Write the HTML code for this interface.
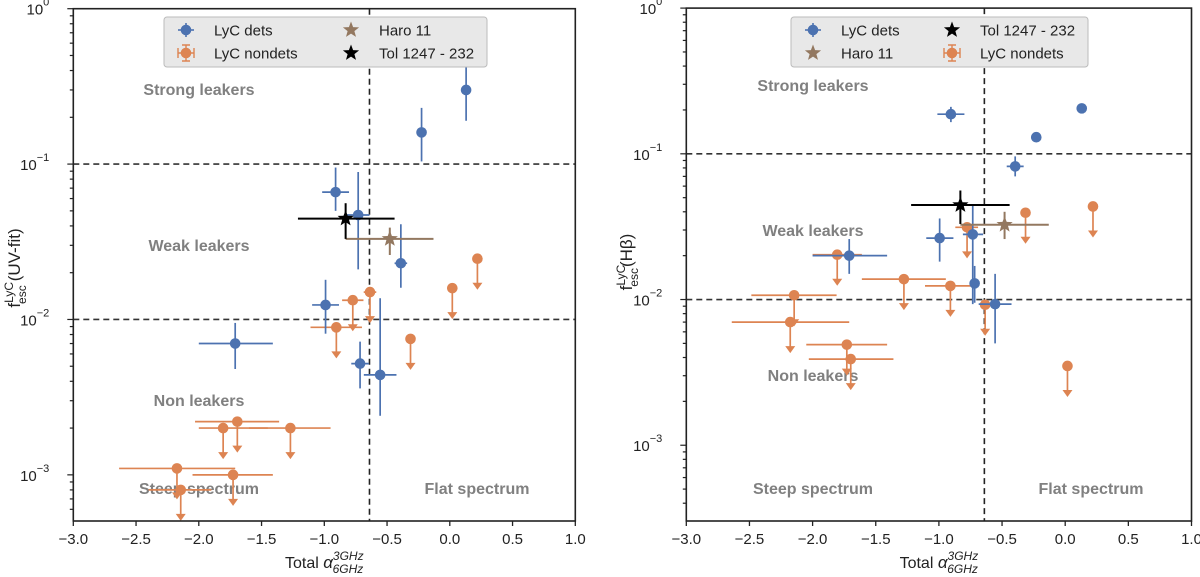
<!DOCTYPE html>
<html><head><meta charset="utf-8"><style>
html,body{margin:0;padding:0;background:#fff;}
svg{display:block;font-family:"Liberation Sans","DejaVu Sans",sans-serif;}
</style></head><body>
<svg id="chart" width="1200" height="577" viewBox="0 0 1200 577"></svg>
<script>
// ---- data (x = alpha, y = fesc) ----
const xTicks = [-3.0,-2.5,-2.0,-1.5,-1.0,-0.5,0.0,0.5,1.0];
const yTickExps = [0,-1,-2,-3];
// Left panel: UV-fit
const L_detX   = [0.13,-0.225,-0.91,-0.73,-0.39,-0.99,-1.71,-0.715,-0.555];
const L_detY   = [0.30,0.16,0.066,0.047,0.023,0.0124,0.0070,0.0052,0.0044];
const L_detYlo = [0.19,0.104,0.050,0.021,0.016,0.0081,0.0048,0.0036,0.0024];
const L_detYhi = [0.45,0.23,0.095,0.089,0.041,0.018,0.0095,0.0072,0.0137];
const L_detXlo = [0.13,-0.225,-1.017,-0.82,-0.44,-1.097,-2.0,-0.785,-0.685];
const L_detXhi = [0.13,-0.225,-0.803,-0.64,-0.34,-0.883,-1.41,-0.645,-0.425];
const L_ndX    = [0.22,0.02,-0.636,-0.773,-0.904,-0.313,-1.693,-1.806,-1.27,-2.174,-1.727,-2.144];
const L_ndY    = [0.0246,0.0159,0.015,0.0133,0.0089,0.0075,0.0022,0.0020,0.0020,0.0011,0.0010,0.00080];
const L_ndXlo  = [0.22,0.02,-0.686,-0.858,-1.11,-0.313,-2.03,-2.0,-1.6,-2.635,-2.05,-2.4];
const L_ndXhi  = [0.22,0.02,-0.586,-0.688,-0.70,-0.313,-1.36,-1.45,-0.95,-1.71,-1.41,-1.9];
const L_haro = [-0.478,0.033,-0.83,-0.13,0.026,0.039];   // x, y, xlo, xhi, ylo, yhi
const L_tol  = [-0.83,0.0446,-1.21,-0.44,0.033,0.056];
// Right panel: Hbeta
const R_detX   = [0.131,-0.905,-0.229,-0.396,-0.994,-0.732,-1.71,-0.717,-0.555];
const R_detY   = [0.205,0.187,0.130,0.082,0.0264,0.028,0.020,0.0129,0.0093];
const R_detYlo = [0.205,0.165,0.122,0.070,0.0182,0.0093,0.0150,0.0095,0.0050];
const R_detYhi = [0.205,0.210,0.140,0.096,0.036,0.044,0.026,0.0170,0.0150];
const R_detXlo = [0.131,-1.012,-0.26,-0.463,-1.10,-0.81,-2.0,-0.74,-0.685];
const R_detXhi = [0.131,-0.798,-0.20,-0.329,-0.885,-0.65,-1.41,-0.69,-0.425];
const R_ndX    = [0.22,-0.314,-0.777,-1.805,-1.277,-0.909,-2.146,-0.634,-2.177,-1.729,-1.698,0.018];
const R_ndY    = [0.0435,0.0394,0.0313,0.0203,0.0138,0.0124,0.0107,0.0092,0.0070,0.0049,0.0039,0.0035];
const R_ndXlo  = [0.22,-0.314,-0.87,-2.0,-1.61,-1.11,-2.485,-0.66,-2.64,-2.05,-2.03,0.018];
const R_ndXhi  = [0.22,-0.314,-0.69,-1.61,-0.945,-0.75,-1.81,-0.61,-1.71,-1.41,-1.36,0.018];
const R_haro = [-0.48,0.0326,-0.83,-0.13,0.026,0.040];
const R_tol  = [-0.83,0.0445,-1.22,-0.44,0.033,0.056];
const alphaCut = -0.64;
const fescCuts = [0.1,0.01];

const NS='http://www.w3.org/2000/svg';
const svg=document.getElementById('chart');
const BLUE='#4c72b0', ORANGE='#dd8452', BROWN='#937860';
function mk(tag,attrs,parent){const e=document.createElementNS(NS,tag);for(const k in attrs)e.setAttribute(k,attrs[k]);(parent||svg).appendChild(e);return e;}

function star(g,cx,cy,r,fill){let p=[];for(let i=0;i<10;i++){const rr=i%2?r*0.42:r;const a=-Math.PI/2+i*Math.PI/5;p.push((cx+rr*Math.cos(a)).toFixed(1)+','+(cy+rr*Math.sin(a)).toFixed(1));}
 return mk('polygon',{points:p.join(' '),fill:fill},g);}

function panel(cfg){
 const {x0,x1,yTop,yBot,ymaxLog,yminLog,name}=cfg;
 const sx=v=>x0+(v+3)/4*(x1-x0);
 const sy=v=>yTop+(ymaxLog-Math.log10(v))/(ymaxLog-yminLog)*(yBot-yTop);
 const g=mk('g',{});
 
 
 fescCuts.forEach(c=>{const l=mk('line',{x1:x0,x2:x1,y1:sy(c),y2:sy(c),stroke:'#333','stroke-width':1.6,'stroke-dasharray':'6,4'},g);
  });
 const vl=mk('line',{x1:sx(alphaCut),x2:sx(alphaCut),y1:yTop,y2:yBot,stroke:'#222','stroke-width':1.6,'stroke-dasharray':'6,4'},g);
 
 cfg.labels.forEach(([t,x,y])=>{const e=mk('text',{x:x,y:y,'text-anchor':'middle','font-size':16,'font-weight':'bold',fill:'#808080'},g);e.textContent=t;
  });
 cfg.ndX.forEach((xv,i)=>{const px=sx(xv),py=sy(cfg.ndY[i]);const gg=mk('g',{},g);
  
  mk('line',{x1:sx(cfg.ndXlo[i]),x2:sx(cfg.ndXhi[i]),y1:py,y2:py,stroke:ORANGE,'stroke-width':1.7},gg);
  mk('line',{x1:px,x2:px,y1:py,y2:py+25,stroke:ORANGE,'stroke-width':1.7},gg);
  mk('polygon',{points:`${px-5},${py+24} ${px+5},${py+24} ${px},${py+31}`,fill:ORANGE},gg);
  mk('circle',{cx:px,cy:py,r:5.3,fill:ORANGE},gg);});
 cfg.detX.forEach((xv,i)=>{const px=sx(xv),py=sy(cfg.detY[i]);const gg=mk('g',{},g);
  
  mk('line',{x1:sx(cfg.detXlo[i]),x2:sx(cfg.detXhi[i]),y1:py,y2:py,stroke:BLUE,'stroke-width':1.7},gg);
  mk('line',{x1:px,x2:px,y1:sy(cfg.detYlo[i]),y2:sy(cfg.detYhi[i]),stroke:BLUE,'stroke-width':1.7},gg);
  mk('circle',{cx:px,cy:py,r:5.3,fill:BLUE},gg);});
 [[cfg.haro,BROWN,'haro11-point'],[cfg.tol,'#000','tol1247-point']].forEach(([d,c,n])=>{const gg=mk('g',{},g);
  
  const px=sx(d[0]),py=sy(d[1]);
  mk('line',{x1:sx(d[2]),x2:sx(d[3]),y1:py,y2:py,stroke:c,'stroke-width':2},gg);
  mk('line',{x1:px,x2:px,y1:sy(d[4]),y2:sy(d[5]),stroke:c,'stroke-width':2},gg);
  star(gg,px,py,8.5,c);});
 mk('rect',{x:x0,y:yTop,width:x1-x0,height:yBot-yTop,fill:'none',stroke:'#222','stroke-width':1.6},g);
 xTicks.forEach(t=>{const px=sx(t);mk('line',{x1:px,x2:px,y1:yBot,y2:yBot+5,stroke:'#222','stroke-width':1.3},g);
  const e=mk('text',{x:px,y:yBot+23,'text-anchor':'middle','font-size':15,fill:'#222'},g);e.textContent=(t<0?'\u2212':'')+Math.abs(t).toFixed(1);
  });
 for(let d=Math.floor(yminLog);d<=0;d++){for(let m=1;m<10;m++){const v=m*Math.pow(10,d);const lv=Math.log10(v);if(lv<yminLog-1e-9||lv>ymaxLog+1e-9)continue;
  const py=sy(v);mk('line',{x1:x0-(m===1?6:3.5),x2:x0,y1:py,y2:py,stroke:'#222','stroke-width':1.2},g);}}
 yTickExps.forEach(d=>{const py=sy(Math.pow(10,d));const e=mk('text',{x:x0-24,y:py+6,'text-anchor':'end','font-size':15,fill:'#222'},g);
  
  e.textContent='10';const s=mk('tspan',{dy:-9,'font-size':11},e);s.textContent=(d<0?'\u2212':'')+Math.abs(d);});
 const xt=mk('text',{x:(x0+x1)/2,y:yBot+47,'text-anchor':'middle','font-size':16,fill:'#222'},g);
 
 xt.textContent='Total ';const a=mk('tspan',{'font-style':'italic','font-size':17},xt);a.textContent='\u03b1';
 const s1=mk('tspan',{dy:-8,'font-size':12,'font-style':'italic'},xt);s1.textContent='3GHz';
 const s2=mk('tspan',{dx:-31,dy:13,'font-size':12,'font-style':'italic'},xt);s2.textContent='6GHz';
 const yt=mk('text',{transform:`translate(${cfg.ytX},${cfg.ytY}) rotate(-90)`,'text-anchor':'middle','font-size':17,fill:'#222'},g);
 
 yt.textContent='f';const u=mk('tspan',{dy:-7,'font-size':12},yt);u.textContent='LyC';
 const e2=mk('tspan',{dx:-22,dy:13,'font-size':12},yt);e2.textContent='esc';
 const r=mk('tspan',{dx:cfg.ytGap,dy:-6},yt);r.textContent=cfg.ytText;
 const lg=mk('g',{},g);
 mk('rect',{x:cfg.leg[0],y:17,width:cfg.leg[1],height:50,rx:3,fill:'#e8e8e8',stroke:'#bbb','stroke-width':1},lg);
 cfg.legItems.forEach(([t,kind,cx,cy])=>{const it=mk('g',{},lg);
  if(kind==='det'){mk('line',{x1:cx-8,x2:cx+8,y1:cy,y2:cy,stroke:BLUE,'stroke-width':1.6},it);mk('line',{x1:cx,x2:cx,y1:cy-7,y2:cy+7,stroke:BLUE,'stroke-width':1.6},it);mk('circle',{cx:cx,cy:cy,r:5.3,fill:BLUE},it);}
  else if(kind==='nd'){mk('path',{d:`M${cx-8},${cy-5}v10M${cx+8},${cy-5}v10M${cx-8},${cy}h16M${cx-4},${cy-8}h8M${cx-4},${cy+8}h8M${cx},${cy-8}v16`,stroke:ORANGE,'stroke-width':1.4,fill:'none'},it);mk('circle',{cx:cx,cy:cy,r:5.3,fill:ORANGE},it);}
  else star(it,cx,cy,8.5,kind);
  const te=mk('text',{x:cx+28,y:cy+5.5,'font-size':15,fill:'#222'},it);te.textContent=t;});
}
panel({name:'left-panel-uvfit',x0:73.3,x1:575.3,yTop:8.7,yBot:521,ymaxLog:0,yminLog:-3.297,ytX:20,ytY:268,ytGap:4,ytText:'(UV-fit)',
 detX:L_detX,detY:L_detY,detYlo:L_detYlo,detYhi:L_detYhi,detXlo:L_detXlo,detXhi:L_detXhi,
 ndX:L_ndX,ndY:L_ndY,ndXlo:L_ndXlo,ndXhi:L_ndXhi,haro:L_haro,tol:L_tol,
 labels:[['Strong leakers',199,95],['Weak leakers',199,251],['Non leakers',199,406],['Steep spectrum',199,494],['Flat spectrum',477,494]],
 leg:[164,323],legItems:[['LyC dets','det',186,30],['LyC nondets','nd',186,53],['Haro 11',BROWN,351,30],['Tol 1247 - 232','#000',351,53]]});
panel({name:'right-panel-hbeta',x0:686.3,x1:1191.5,yTop:8.1,yBot:521,ymaxLog:0,yminLog:-3.52,ytX:632,ytY:262,ytGap:1,ytText:'(H\u03b2)',
 detX:R_detX,detY:R_detY,detYlo:R_detYlo,detYhi:R_detYhi,detXlo:R_detXlo,detXhi:R_detXhi,
 ndX:R_ndX,ndY:R_ndY,ndXlo:R_ndXlo,ndXhi:R_ndXhi,haro:R_haro,tol:R_tol,
 labels:[['Strong leakers',813,91],['Weak leakers',813,236],['Non leakers',813,381],['Steep spectrum',813,494],['Flat spectrum',1091,494]],
 leg:[791,297],legItems:[['LyC dets','det',813,30],['Haro 11',BROWN,813,53],['Tol 1247 - 232','#000',952,30],['LyC nondets','nd',952,53]]});
</script>
</body></html>
